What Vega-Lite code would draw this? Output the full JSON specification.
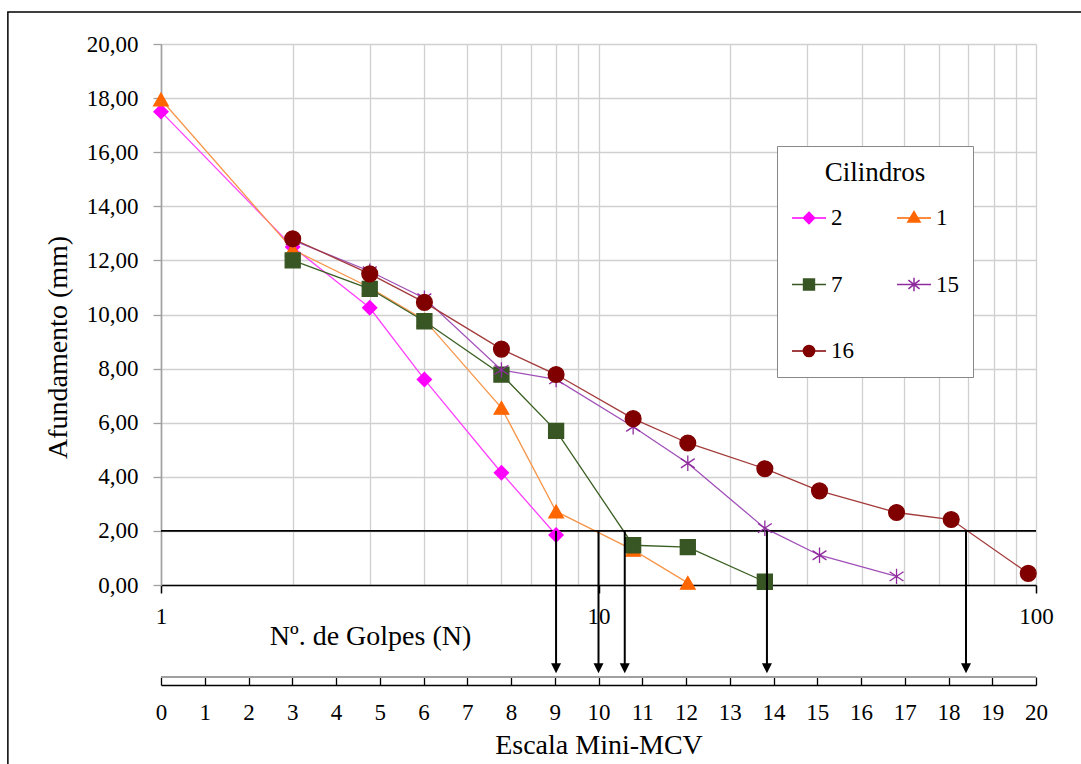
{
  "$schema": "https://vega.github.io/schema/vega-lite/v6.json",
  "width": 875,
  "height": 541,
  "autosize": "none",
  "padding": {"left": 161, "top": 44, "right": 45, "bottom": 179},
  "background": "white",
  "datasets": {
    "curves": [
      {"series": "2", "N": 1, "afund": 17.5},
      {"series": "2", "N": 2, "afund": 12.5},
      {"series": "2", "N": 3, "afund": 10.25},
      {"series": "2", "N": 4, "afund": 7.6},
      {"series": "2", "N": 6, "afund": 4.15},
      {"series": "2", "N": 8, "afund": 1.85},
      {"series": "1", "N": 1, "afund": 17.95},
      {"series": "1", "N": 2, "afund": 12.4},
      {"series": "1", "N": 3, "afund": 11.0},
      {"series": "1", "N": 4, "afund": 9.8},
      {"series": "1", "N": 6, "afund": 6.55},
      {"series": "1", "N": 8, "afund": 2.72},
      {"series": "1", "N": 12, "afund": 1.3},
      {"series": "1", "N": 16, "afund": 0.08},
      {"series": "7", "N": 2, "afund": 12.0},
      {"series": "7", "N": 3, "afund": 10.95},
      {"series": "7", "N": 4, "afund": 9.75},
      {"series": "7", "N": 6, "afund": 7.78},
      {"series": "7", "N": 8, "afund": 5.7},
      {"series": "7", "N": 12, "afund": 1.47},
      {"series": "7", "N": 16, "afund": 1.4},
      {"series": "7", "N": 24, "afund": 0.12},
      {"series": "15", "N": 2, "afund": 12.75},
      {"series": "15", "N": 3, "afund": 11.6},
      {"series": "15", "N": 4, "afund": 10.6},
      {"series": "15", "N": 6, "afund": 7.95},
      {"series": "15", "N": 8, "afund": 7.6},
      {"series": "15", "N": 12, "afund": 5.85},
      {"series": "15", "N": 16, "afund": 4.5},
      {"series": "15", "N": 24, "afund": 2.1},
      {"series": "15", "N": 32, "afund": 1.1},
      {"series": "15", "N": 48, "afund": 0.32},
      {"series": "16", "N": 2, "afund": 12.8},
      {"series": "16", "N": 3, "afund": 11.5},
      {"series": "16", "N": 4, "afund": 10.45},
      {"series": "16", "N": 6, "afund": 8.72},
      {"series": "16", "N": 8, "afund": 7.78},
      {"series": "16", "N": 12, "afund": 6.15},
      {"series": "16", "N": 16, "afund": 5.25},
      {"series": "16", "N": 24, "afund": 4.3},
      {"series": "16", "N": 32, "afund": 3.48},
      {"series": "16", "N": 48, "afund": 2.68},
      {"series": "16", "N": 64, "afund": 2.42},
      {"series": "16", "N": 96, "afund": 0.43}
    ],
    "arrows": [
      {"mcv": 9.03},
      {"mcv": 10.0},
      {"mcv": 10.6},
      {"mcv": 13.85},
      {"mcv": 18.4}
    ]
  },
  "config": {
    "view": {"stroke": null},
    "font": "Liberation Serif",
    "axis": {
      "labelFont": "Liberation Serif",
      "titleFont": "Liberation Serif",
      "labelColor": "black",
      "titleColor": "black",
      "titleFontWeight": "normal",
      "labelFontSize": 23,
      "titleFontSize": 28,
      "gridColor": "#d0d0d0",
      "gridWidth": 1.3
    },
    "legend": {
      "orient": "none", "legendX": 616, "legendY": 102, "columns": 2, "direction": "horizontal",
      "strokeColor": "#888888", "fillColor": "white", "padding": 14,
      "titleAnchor": "middle", "titleFontSize": 27, "titleFont": "Liberation Serif", "titleFontWeight": "normal", "titleColor": "black", "titlePadding": 13,
      "labelFont": "Liberation Serif", "labelFontSize": 23, "labelColor": "black", "labelOffset": 4,
      "symbolSize": 1156, "symbolStrokeWidth": 1.5, "rowPadding": 36.5, "columnPadding": 40
    }
  },
  "layer": [
    {
      "data": {"name": "curves"},
      "mark": {"type": "line"},
      "encoding": {
        "x": {
          "field": "N", "type": "quantitative",
          "scale": {"type": "log", "domain": [1, 100], "nice": false},
          "axis": {
            "values": [1, 2, 3, 4, 5, 6, 7, 8, 9, 10, 20, 30, 40, 50, 60, 70, 80, 90, 100],
            "labelExpr": "(datum.value == 1 || datum.value == 10 || datum.value == 100) ? format(datum.value, 'd') : ''",
            "tickOpacity": {"condition": {"test": "datum.value != 1 && datum.value != 10 && datum.value != 100", "value": 0}, "value": 1},
            "tickColor": "black", "tickSize": 8, "tickWidth": 1.5,
            "domainColor": "black", "domainWidth": 1.5,
            "labelPadding": 12, "labelOverlap": false, "labelFlush": false,
            "grid": true,
            "title": "Nº. de Golpes (N)", "titleFontWeight": "normal",
            "titleX": 209, "titleY": 51, "titleAlign": "center", "titleBaseline": "middle"
          }
        },
        "y": {
          "field": "afund", "type": "quantitative",
          "scale": {"domain": [0, 20], "nice": false, "zero": false},
          "axis": {
            "values": [0, 1, 2, 3, 4, 5, 6, 7, 8, 9, 10, 11, 12, 13, 14, 15, 16, 17, 18, 19, 20],
            "labelExpr": "datum.value % 2 == 0 ? replace(format(datum.value, '.2f'), '.', ',') : ''",
            "tickOpacity": {"condition": {"test": "datum.value % 2 == 1", "value": 0}, "value": 1},
            "tickColor": "#a0a0a0", "tickSize": 8, "tickWidth": 1.3,
            "domainColor": "#a0a0a0", "domainWidth": 1.6,
            "labelPadding": 15, "labelOverlap": false, "labelFlush": false,
            "grid": true,
            "title": "Afundamento (mm)", "titleFontWeight": 300, "titleFont": "Liberation Serif", "titleFontSize": 28,
            "titleX": -103, "titleY": 303, "titleAngle": -90, "titleAlign": "center", "titleBaseline": "middle"
          }
        },
        "stroke": {
          "field": "series", "type": "nominal",
          "scale": {"domain": ["2", "1", "7", "15", "16"], "range": ["#FF40FF", "#F7964A", "#3A5F22", "#A050B8", "#A33A3A"]},
          "legend": null
        },
        "strokeWidth": {
          "field": "series", "type": "ordinal",
          "scale": {"domain": ["2", "1", "7", "15", "16"], "range": [1.3, 1.3, 2.6, 1.3, 1.3]},
          "legend": null
        }
      }
    },
    {
      "data": {"values": [{}]},
      "mark": {"type": "rect", "fill": "transparent", "stroke": "black", "strokeWidth": 1.5},
      "encoding": {
        "x": {"datum": -3.5, "type": "quantitative", "scale": {"domain": [0, 20], "nice": false, "zero": false}, "axis": null},
        "x2": {"datum": 21.3},
        "y": {"datum": 21.18, "type": "quantitative", "scale": {"domain": [0, 20], "nice": false, "zero": false}},
        "y2": {"datum": -7.2}
      }
    },
    {
      "data": {"values": [{}]},
      "mark": {"type": "rule", "stroke": "black", "strokeWidth": 1.8},
      "encoding": {
        "y": {"datum": 2, "type": "quantitative", "scale": {"domain": [0, 20], "nice": false, "zero": false}}
      }
    },
    {
      "data": {"name": "curves"},
      "mark": {"type": "point", "filled": true, "opacity": 1, "strokeWidth": 1.3},
      "encoding": {
        "x": {"field": "N", "type": "quantitative", "scale": {"type": "log", "domain": [1, 100], "nice": false}, "axis": null},
        "y": {"field": "afund", "type": "quantitative", "scale": {"domain": [0, 20], "nice": false, "zero": false}},
        "color": {
          "field": "series", "type": "nominal",
          "scale": {"domain": ["2", "1", "7", "15", "16"], "range": ["#FF00FF", "#FF6600", "#375623", "#8E2C9E", "#800000"]},
          "legend": null
        },
        "stroke": {
          "field": "series", "type": "nominal",
          "scale": {"domain": ["2", "1", "7", "15", "16"], "range": ["#FF00FF", "#FF6600", "#375623", "#8E2C9E", "#800000"]},
          "legend": null
        },
        "shape": {
          "field": "series", "type": "nominal",
          "scale": {"domain": ["2", "1", "7", "15", "16"], "range": ["diamond", "triangle-up", "square", "M0,-1L0,1M-0.9,-0.6L0.9,0.6M-0.9,0.6L0.9,-0.6", "circle"]},
          "legend": null
        },
        "size": {
          "field": "series", "type": "ordinal",
          "scale": {"domain": ["2", "1", "7", "15", "16"], "range": [200, 250, 215, 256, 180]},
          "legend": null
        }
      }
    },
    {
      "data": {"name": "curves"},
      "transform": [{"filter": "datum.N < 0"}],
      "mark": {"type": "point", "filled": true, "opacity": 1, "strokeWidth": 1.5},
      "encoding": {
        "x": {"field": "N", "type": "quantitative", "scale": {"type": "log", "domain": [1, 100], "nice": false}, "axis": null},
        "y": {"field": "afund", "type": "quantitative", "scale": {"domain": [0, 20], "nice": false, "zero": false}},
        "color": {
          "field": "series", "type": "nominal",
          "scale": {"domain": ["2", "1", "7", "15", "16"], "range": ["#FF00FF", "#FF6600", "#375623", "#8E2C9E", "#800000"]},
          "legend": {"title": "Cilindros"}
        },
        "stroke": {
          "field": "series", "type": "nominal",
          "scale": {"domain": ["2", "1", "7", "15", "16"], "range": ["#FF00FF", "#FF6600", "#375623", "#8E2C9E", "#800000"]},
          "legend": {"title": "Cilindros"}
        },
        "shape": {
          "field": "series", "type": "nominal",
          "scale": {
            "domain": ["2", "1", "7", "15", "16"],
            "range": [
              "M-1,0L1,0M0,-0.33L0.33,0L0,0.33L-0.33,0Z",
              "M-1,0L1,0M0,-0.38L0.36,0.24L-0.36,0.24Z",
              "M-1,0L1,0M-0.32,-0.32L0.32,-0.32L0.32,0.32L-0.32,0.32Z",
              "M-1,0L1,0M0,-0.4L0,0.4M-0.33,-0.26L0.33,0.26M-0.33,0.26L0.33,-0.26",
              "M-1,0L1,0M-0.33,0A0.33,0.33,0,1,0,0.33,0A0.33,0.33,0,1,0,-0.33,0Z"
            ]
          },
          "legend": {"title": "Cilindros"}
        }
      }
    },
    {
      "data": {"values": [{}]},
      "mark": {"type": "rule", "stroke": "#a0a0a0", "strokeWidth": 2},
      "encoding": {
        "x": {"datum": 0, "type": "quantitative", "scale": {"domain": [0, 20], "nice": false, "zero": false}, "axis": null},
        "x2": {"datum": 20},
        "y": {"datum": -3.4, "type": "quantitative", "scale": {"domain": [0, 20], "nice": false, "zero": false}}
      }
    },
    {
      "data": {"name": "arrows"},
      "mark": {"type": "rule", "stroke": "black", "strokeWidth": 2},
      "encoding": {
        "x": {
          "field": "mcv", "type": "quantitative",
          "scale": {"domain": [0, 20], "nice": false, "zero": false},
          "axis": {
            "orient": "bottom", "offset": 100,
            "values": [0, 1, 2, 3, 4, 5, 6, 7, 8, 9, 10, 11, 12, 13, 14, 15, 16, 17, 18, 19, 20],
            "format": "d",
            "tickSize": -8, "tickColor": "black", "tickWidth": 1.3,
            "domainColor": "black", "domainWidth": 1.5,
            "labelPadding": 24, "labelOverlap": false, "labelFlush": false,
            "grid": false,
            "title": "Escala Mini-MCV", "titleFontWeight": "normal", "titlePadding": 7
          }
        },
        "y": {"datum": 2, "type": "quantitative", "scale": {"domain": [0, 20], "nice": false, "zero": false}},
        "y2": {"datum": -3.0}
      }
    },
    {
      "data": {"name": "arrows"},
      "mark": {"type": "point", "shape": "M-1,-1L1,-1L0,1Z", "size": 100, "filled": true, "color": "black", "opacity": 1},
      "encoding": {
        "x": {"field": "mcv", "type": "quantitative", "scale": {"domain": [0, 20], "nice": false, "zero": false}, "axis": null},
        "y": {"datum": -3.08, "type": "quantitative", "scale": {"domain": [0, 20], "nice": false, "zero": false}}
      }
    }
  ],
  "resolve": {"scale": {"x": "independent", "color": "independent", "shape": "independent", "stroke": "independent"}}
}
